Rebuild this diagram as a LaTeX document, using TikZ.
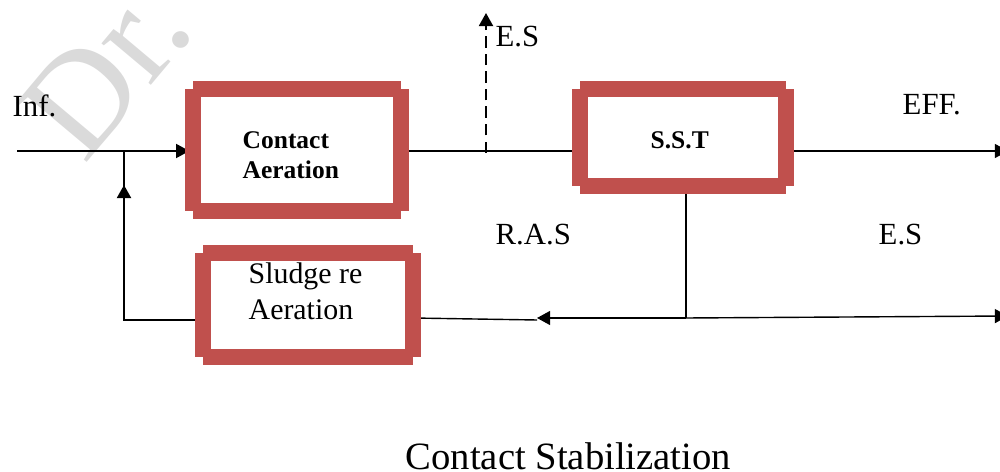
\documentclass[tikz,border=0pt]{standalone}
\usepackage{fontspec}
\setmainfont{Liberation Serif}
\usetikzlibrary{arrows.meta}
\definecolor{tankred}{HTML}{C0504D}
\definecolor{markgray}{HTML}{DADADA}

\begin{document}
\begin{tikzpicture}[x=0.02cm,y=-0.02cm,>={Triangle[length=7.5pt,width=8pt]},
    line width=0.8pt,
    tank/.style={rectangle,draw=none,inner sep=0pt},
    tank frame/.style={fill=tankred,draw=none},
    label text/.style={font=\fontsize{17.5}{21}\selectfont,anchor=base west,inner sep=0pt},
    box text/.style={font=\fontsize{14.5}{17.6}\selectfont\bfseries,align=left,anchor=base west,inner sep=0pt}]
    \useasboundingbox (0,0) rectangle (1000,472);
    % watermark
    \node[markgray,font=\fontsize{80}{80}\selectfont,rotate=50,anchor=base west,inner sep=0pt] (mark) at (84,166) {Dr. I};
    % tanks
    \node[tank,minimum width=4.13cm,minimum height=2.41cm] (ca) at (296.75,150.25) {};
    \node[tank,minimum width=4.08cm,minimum height=1.9cm] (sst) at (683,137.5) {};
    \node[tank,minimum width=4.16cm,minimum height=2.04cm] (sra) at (308,305) {};
    \node[box text] (catext) at (242,179) {Contact\\Aeration};
    \node[box text] (ssttext) at (650,149) {S.S.T};
    \node[label text,align=left,font=\fontsize{17}{21}\selectfont] (sratext) at (248,320) {Sludge re\\Aeration};
    % labels
    \node[label text] (inf) at (12,117) {Inf.};
    \node[label text] (estop) at (495,47) {E.S};
    \node[label text] (eff) at (902,115) {EFF.};
    \node[label text] (ras) at (495,245) {R.A.S};
    \node[label text] (esmid) at (878,245) {E.S};
    \node[label text,font=\fontsize{22}{26}\selectfont] (title) at (405,469) {Contact Stabilization};
    % flow lines
    \coordinate (src) at (17,151);
    \coordinate (j1) at (124,151);
    \coordinate (j2) at (124,320);
    \coordinate (upa) at (124,238);
    \coordinate (upb) at (124,185);
    \coordinate (esa) at (486,153);
    \coordinate (esb) at (486,13);
    \coordinate (split) at (686,318);
    \coordinate (rasend) at (537,318);
    \coordinate (effend) at (1008,151);
    \coordinate (esend) at (1008,316);
    \draw[->,shorten >=0.07cm] (src) -- (ca.west |- src);
    \draw (j1) -- (j2) -- (j2 -| sra.west);
    \draw[->,line width=1.3pt] (upa) -- (upb);
    \draw (ca.east |- src) -- (sst.west |- src);
    \draw[->,dash pattern=on 6.5pt off 3.5pt,line width=1.3pt] (esa) -- (esb);
    \draw[->] (sst.east |- src) -- (effend);
    \draw (sst.south -| split) -- (split);
    \draw[->] (split) -- (rasend);
    \draw (sra.east |- split) -- ([yshift=-0.04cm]rasend);
    \draw[->] (split) -- (esend);
    % tank walls
    \foreach \t in {ca,sst,sra}{
      \fill[tank frame] ([yshift=0.16cm]\t.north west) rectangle ([yshift=-0.16cm]\t.north east);
      \fill[tank frame] ([yshift=0.16cm]\t.south west) rectangle ([yshift=-0.16cm]\t.south east);
      \fill[tank frame] ([xshift=-0.16cm]\t.north west) rectangle ([xshift=0.16cm]\t.south west);
      \fill[tank frame] ([xshift=-0.16cm]\t.north east) rectangle ([xshift=0.16cm]\t.south east);
    }
\end{tikzpicture}
\end{document}
